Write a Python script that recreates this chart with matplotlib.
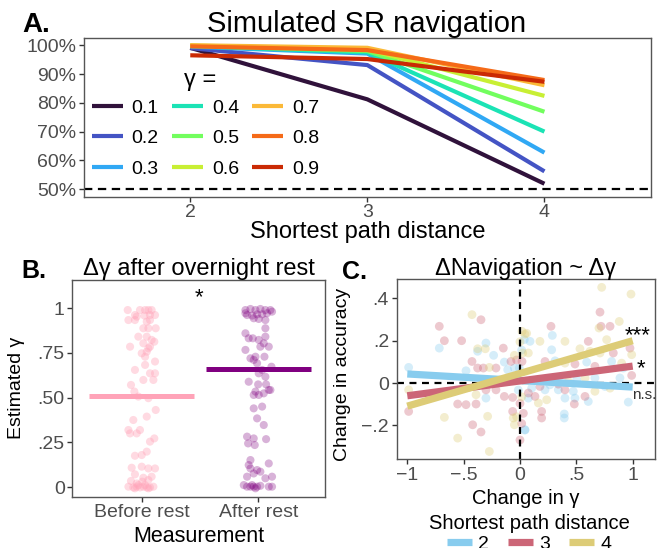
import matplotlib
matplotlib.use("Agg")
import matplotlib.pyplot as plt

plt.rcParams['font.family'] = ['Liberation Sans', 'DejaVu Sans']
plt.rcParams['lines.scale_dashes'] = False
plt.rcParams['axes.unicode_minus'] = True

# ---------------- Panel A data ----------------
path_distance = [2, 3, 4]
gamma_labels = ['0.1', '0.2', '0.3', '0.4', '0.5', '0.6', '0.7', '0.8', '0.9']
acc_g01 = [99.1, 81.2, 51.9]
acc_g02 = [99.0, 93.1, 56.2]
acc_g03 = [99.5, 97.1, 62.7]
acc_g04 = [99.7, 97.5, 70.0]
acc_g05 = [99.8, 98.0, 76.9]
acc_g06 = [99.9, 98.5, 82.4]
acc_g07 = [100.0, 99.1, 86.1]
acc_g08 = [99.6, 98.3, 87.9]
acc_g09 = [96.5, 95.2, 87.3]
gamma_colors = ['#30123B', '#4454C4', '#30A8F4', '#1BE3B5', '#72FE5E',
                '#C8EF34', '#FBB938', '#F56A18', '#CA2A04']
chance_level = 50

# ---------------- Panel B data ----------------
measurements = ['Before rest', 'After rest']
before_jitter = [-0.12, -0.058, -0.015, 0.029, 0.057, 0.085, -0.043, 0.023, 0.071, 0.114,
                 -0.114, -0.058, 0.043, 0.071, 0.014, 0.057, 0.12, -0.029, 0.043, 0.085,
                 0.108, 0.014, -0.10, 0.057, 0.071, 0.0, 0.029, 0.043, 0.114, 0.029,
                 -0.058, 0.071, 0.114, 0.014, 0.10, -0.092, -0.063, -0.029, 0.057, 0.043,
                 0.12, -0.072, -0.114, -0.10, -0.043, -0.015, 0.071, 0.108, 0.0, -0.058,
                 0.043, -0.086, 0.0, 0.057, 0.114, -0.058, 0.014, 0.085, -0.092, -0.043,
                 0.005, 0.057, -0.114, -0.072, -0.043, -0.015, 0.014, 0.043, 0.071, 0.10,
                 -0.029, 0.029, -0.058, 0.057]
before_gamma = [0.99, 0.962, 0.99, 0.99, 0.99, 0.99, 0.953, 0.959, 0.962, 0.962,
                0.934, 0.934, 0.925, 0.934, 0.888, 0.888, 0.888, 0.841, 0.841, 0.823,
                0.813, 0.804, 0.785, 0.776, 0.785, 0.748, 0.729, 0.757, 0.702, 0.683,
                0.655, 0.636, 0.636, 0.599, 0.599, 0.571, 0.534, 0.506, 0.497, 0.394,
                0.431, 0.375, 0.319, 0.30, 0.30, 0.319, 0.254, 0.272, 0.179, 0.175,
                0.198, 0.108, 0.114, 0.104, 0.104, 0.071, 0.052, 0.058, 0.034, 0.02,
                0.03, 0.039, 0.002, -0.002, 0.002, -0.002, 0.002, -0.002, -0.002, 0.002,
                0.011, 0.011, -0.007, -0.007]
after_jitter = [-0.111, -0.068, -0.025, 0.017, 0.06, 0.103, -0.097, -0.054, -0.011, 0.032,
                0.074, 0.117, -0.111, -0.04, 0.003, 0.06, 0.06, -0.111, -0.083, -0.048,
                0.003, 0.06, 0.046, 0.017, 0.089, -0.111, -0.068, -0.025, -0.04, 0.052,
                -0.011, 0.112, 0.032, 0.003, 0.06, -0.083, -0.002, 0.066, -0.025, 0.089,
                0.046, -0.04, 0.103, 0.003, -0.04, 0.032, -0.011, 0.046, -0.097, -0.04,
                0.066, -0.088, -0.031, -0.068, -0.083, 0.089, -0.068, -0.011, -0.04, 0.017,
                0.06, -0.097, 0.117, -0.125, -0.097, -0.068, -0.04, -0.011, 0.017, 0.089,
                0.117, -0.054, -0.025]
after_gamma = [0.99, 0.996, 0.99, 0.996, 0.99, 0.99, 0.962, 0.959, 0.966, 0.966,
               0.972, 0.981, 0.972, 0.944, 0.94, 0.934, 0.888, 0.86, 0.832, 0.832,
               0.823, 0.841, 0.804, 0.785, 0.785, 0.767, 0.72, 0.729, 0.711, 0.729,
               0.692, 0.673, 0.655, 0.636, 0.617, 0.589, 0.574, 0.574, 0.534, 0.543,
               0.524, 0.515, 0.543, 0.515, 0.44, 0.45, 0.384, 0.347, 0.282, 0.272,
               0.268, 0.244, 0.235, 0.151, 0.123, 0.132, 0.104, 0.095, 0.076, 0.086,
               0.049, 0.058, 0.058, 0.011, 0.002, 0.002, 0.002, 0.002, 0.007, 0.002,
               0.002, 0.011, -0.007]
mean_before = 0.511
mean_after = 0.658
color_before = '#FFA3B8'
color_after = '#800080'

# ---------------- Panel C data ----------------
dist_levels = ['2', '3', '4']
dist_colors = ['#88CCEE', '#CC6677', '#DDCC77']
# points: change in gamma, change in accuracy
d2_dgamma = [-0.988, -0.716, -0.302, -0.234, -0.479, -0.139, -0.05, -0.109, -0.302, 0.038,
             -0.006, 0.287, 0.089, 0.281, 0.311, 0.592, 0.813, 0.917, 0.887, 0.665,
             0.503, 0.266, 0.104, 0.222, 0.34, 0.473, 0.754, 0.488, 0.399, 0.074,
             0.606, 0.393, 0.393, 0.961, 0.044, 0.015, -0.015, 0.044, -0.376]
d2_dacc = [0.074, 0.165, 0.189, 0.131, 0.058, 0.099, 0.071, 0.063, -0.071, 0.205,
           0.071, 0.225, 0.197, 0.157, 0.105, 0.099, 0.102, 0.071, 0.024, 0.024,
           0.016, -0.008, -0.024, -0.032, -0.032, -0.039, -0.016, -0.071, -0.071, -0.071,
           -0.087, -0.146, -0.165, -0.09, -0.22, 0.156, -0.033, -0.222, 0.15]
d3_dgamma = [-0.988, -0.716, -0.671, -0.518, -0.553, -0.346, -0.42, -0.346, -0.148, -0.426,
             -0.376, -0.325, -0.213, -0.08, -0.302, -0.213, -0.39, -0.139, -0.065, -0.479,
             -0.065, 0.018, 0.71, 0.719, 0.799, 0.275, 0.606, 0.828, 0.976, 0.222,
             0.488, 0.665, 0.991, 0.34, 0.177, 0.074, 0.399, 0.577, 0.133, 0.482,
             0.192, 0.192, -0.03, 0.0, 0.03, 0.015, 0.0]
d3_dacc = [-0.134, 0.268, 0.2, 0.2, -0.099, 0.299, -0.197, -0.231, 0.165, 0.102,
           0.071, 0.071, 0.071, 0.102, -0.032, -0.032, -0.099, -0.063, -0.068, -0.102,
           -0.134, 0.102, 0.335, 0.268, 0.268, 0.268, 0.197, 0.142, 0.165, 0.102,
           0.09, 0.079, 0.036, -0.005, -0.016, -0.047, -0.032, -0.063, -0.063, -0.099,
           -0.134, -0.165, 0.109, -0.096, -0.143, -0.191, -0.269]
d4_dgamma = [-0.988, -0.671, -0.426, -0.553, -0.272, -0.376, -0.308, -0.272, -0.05, -0.39,
             -0.287, -0.06, -0.05, 0.018, 0.024, 0.725, 0.985, 0.881, 0.701, 0.177,
             0.399, 0.769, 0.044, 0.074, 0.532, 0.621, 0.71, 0.991, 0.399, 0.902,
             0.577, 0.429, 0.665, 0.799, 0.237, 0.163, 0.015, -0.03, 0.059, 0.0]
d4_dacc = [-0.032, -0.162, 0.323, -0.26, -0.323, 0.162, 0.162, 0.074, 0.131, -0.055,
           -0.157, -0.165, -0.197, 0.244, 0.142, 0.452, 0.42, 0.291, 0.26, 0.197,
           0.197, 0.205, 0.231, 0.142, 0.162, 0.15, 0.142, 0.134, 0.094, 0.094,
           0.024, 0.008, -0.039, -0.024, -0.079, -0.094, -0.065, -0.159, 0.235, 0.195]
fit_x = [-1, 1]
fit_d2 = [0.043, -0.019]
fit_d3 = [-0.060, 0.080]
fit_d4 = [-0.109, 0.200]

# ---------------- Figure ----------------
W, H = 661, 548
fig = plt.figure(figsize=(W / 100, H / 100), dpi=100)

def px(x, y):
    return x / W, 1 - y / H

spine_col = '#555555'
tick_col = '#4D4D4D'

def style_axes(ax):
    for s in ax.spines.values():
        s.set_color(spine_col)
        s.set_linewidth(1.0)
    ax.tick_params(direction='out', length=3.5, width=1.0, color='#333333',
                   labelcolor=tick_col, labelsize=14, pad=2)

# Panel A
axA = fig.add_axes([84 / W, 1 - 196.7 / H, 566.7 / W, 158.4 / H])
style_axes(axA)
series = [acc_g01, acc_g02, acc_g03, acc_g04, acc_g05, acc_g06, acc_g07, acc_g08, acc_g09]
for lab, vals, col in zip(gamma_labels, series, gamma_colors):
    axA.plot(path_distance, vals, color=col, lw=3.0, label=lab, solid_capstyle='butt')
axA.axhline(chance_level, color='black', lw=1.6, ls=(0, (6, 4)))
axA.set_xlim(1.4, 4.6)
axA.set_ylim(47.4, 102.4)
axA.set_xticks(path_distance)
axA.set_yticks([50, 60, 70, 80, 90, 100])
axA.set_yticklabels([f'{v}%' for v in [50, 60, 70, 80, 90, 100]])
axA.set_xlabel('Shortest path distance', fontsize=17, labelpad=0)
leg = axA.legend(ncol=3, frameon=False, loc='upper left',
                 bbox_to_anchor=px(91.7, 99), bbox_transform=fig.transFigure,
                 fontsize=14, handlelength=1.6, handletextpad=0.45,
                 columnspacing=0.68, labelspacing=0.66, borderpad=0, borderaxespad=0)
fig.text(*px(200, 80), 'γ =', fontsize=17, ha='center', va='center')
fig.text(*px(367, 32), 'Simulated SR navigation', fontsize=21, ha='center', va='baseline')
fig.text(*px(22, 32), 'A.', fontsize=20, fontweight='bold', ha='left', va='baseline')

# Panel B
axB = fig.add_axes([72.3 / W, 1 - 496.7 / H, 252.7 / W, 216.7 / H])
style_axes(axB)
axB.scatter([1 + j for j in before_jitter], before_gamma, s=34, color=color_before,
            alpha=0.4, edgecolors='none')
axB.scatter([2 + j for j in after_jitter], after_gamma, s=34, color=color_after,
            alpha=0.3, edgecolors='none')
axB.plot([0.55, 1.45], [mean_before, mean_before], color=color_before, lw=3.6,
         solid_capstyle='butt')
axB.plot([1.55, 2.45], [mean_after, mean_after], color=color_after, lw=3.6,
         solid_capstyle='butt')
axB.text(1.495, 1.06, '*', fontsize=16, ha='center', va='center')
axB.set_xlim(0.405, 2.571)
axB.set_ylim(-0.054, 1.158)
axB.set_xticks([1, 2])
axB.set_xticklabels(measurements)
axB.set_yticks([0, 0.25, 0.5, 0.75, 1])
axB.set_yticklabels(['0', '.25', '.50', '.75', '1'])
axB.set_xlabel('Measurement', fontsize=15.5, labelpad=3)
axB.set_ylabel('Estimated γ', fontsize=14, labelpad=9)
fig.text(*px(198.6, 275), 'Δγ after overnight rest', fontsize=17, ha='center', va='baseline')
fig.text(*px(21.7, 278.3), 'B.', fontsize=18, fontweight='bold', ha='left', va='baseline')

# Panel C
axC = fig.add_axes([396.7 / W, 1 - 459.3 / H, 258.3 / W, 180 / H])
style_axes(axC)
for xs, ys, col in zip([d2_dgamma, d3_dgamma, d4_dgamma], [d2_dacc, d3_dacc, d4_dacc],
                       dist_colors):
    axC.scatter(xs, ys, s=40, color=col, alpha=0.35, edgecolors='none', zorder=1)
axC.axvline(0, color='black', lw=1.6, ls=(0, (5, 4)), zorder=2)
axC.axhline(0, color='black', lw=1.6, ls=(0, (5, 4)), zorder=2)
handles = []
for fy, col, lab in zip([fit_d2, fit_d3, fit_d4], dist_colors, dist_levels):
    h, = axC.plot(fit_x, fy, color=col, lw=5.2, solid_capstyle='butt', zorder=3, label=lab)
    handles.append(h)
axC.text(1.047, 0.225, '***', fontsize=16, ha='center', va='center')
axC.text(1.07, 0.07, '*', fontsize=16, ha='center', va='center')
axC.text(1.105, -0.057, 'n.s.', fontsize=11, ha='center', va='center', color='#333333')
axC.set_xlim(-1.094, 1.198)
axC.set_ylim(-0.36, 0.49)
axC.set_xticks([-1, -0.5, 0, 0.5, 1])
axC.set_xticklabels(['\u22121', '\u2212.5', '0', '.5', '1'])
axC.set_yticks([-0.2, 0, 0.2, 0.4])
axC.set_yticklabels(['\u2212.2', '0', '.2', '.4'])
axC.set_xlabel('Change in γ', fontsize=14.5, labelpad=4)
axC.set_ylabel('Change in accuracy', fontsize=14)
axC.yaxis.set_label_coords(-0.175, 0.474)
legC = axC.legend(handles=handles, ncol=3, title='Shortest path distance', frameon=False,
                  loc='upper center', bbox_to_anchor=px(529, 514), bbox_transform=fig.transFigure,
                  fontsize=14, title_fontsize=14.5, handlelength=1.29, handletextpad=0.3,
                  columnspacing=1.0, labelspacing=0.1, borderpad=0, borderaxespad=0)
fig.text(*px(526, 275), 'ΔNavigation ~ Δγ', fontsize=17, ha='center', va='baseline')
fig.text(*px(341.7, 279.3), 'C.', fontsize=18, fontweight='bold', ha='left', va='baseline')

fig.savefig('out.png', dpi=100)
